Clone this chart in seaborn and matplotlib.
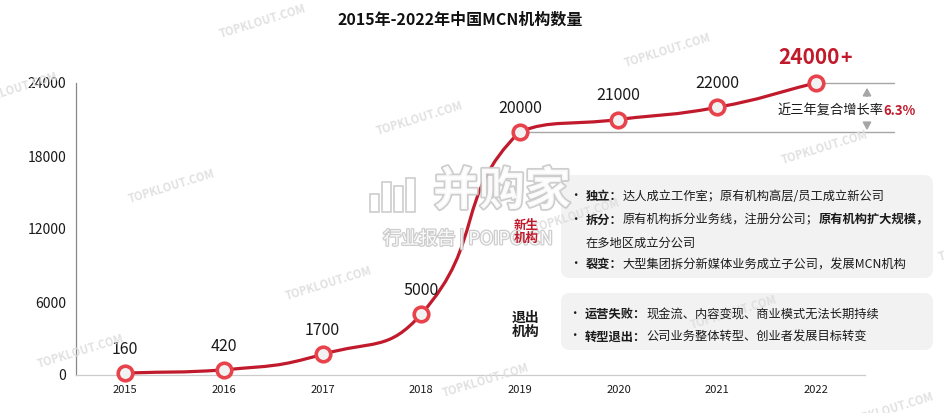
import numpy as np
import pandas as pd
import seaborn as sns
import matplotlib
matplotlib.use("Agg")
import matplotlib.pyplot as plt
from matplotlib.path import Path
from matplotlib.patches import PathPatch, FancyBboxPatch, Rectangle
from matplotlib.transforms import IdentityTransform
import matplotlib.patheffects as pe

# data
years = ["2015", "2016", "2017", "2018", "2019", "2020", "2021", "2022"]
counts = [160, 420, 1700, 5000, 20000, 21000, 22000, 24000]
value_labels = ["160", "420", "1700", "5000", "20000", "21000", "22000", ""]
last_label = "24000"
cagr_text = "近三年复合增长率"
cagr_value = "6.3%"
title = "2015年-2022年中国MCN机构数量"

new_lines = [
    [("独立：", "bold"), ("达人成立工作室；原有机构高层/员工成立新公司", "normal")],
    [("拆分：", "bold"), ("原有机构拆分业务线，注册分公司；", "normal"), ("原有机构扩大规模，", "bold")],
    [("在多地区成立分公司", "normal")],
    [("裂变：", "bold"), ("大型集团拆分新媒体业务成立子公司，发展MCN机构", "normal")],
]
exit_lines = [
    [("运营失败：", "bold"), ("现金流、内容变现、商业模式无法长期持续", "normal")],
    [("转型退出：", "bold"), ("公司业务整体转型、创业者发展目标转变", "normal")],
]

RED = "#c01a2c"
RING = "#e8434c"
W, H = 945, 413

sns.set_style("white")
plt.rcParams["font.family"] = ["Noto Sans CJK SC", "DejaVu Sans"]

df = pd.DataFrame({"pos": np.arange(len(years)), "year": years, "count": counts})

fig = plt.figure(figsize=(W / 100, H / 100), dpi=100)
ax = fig.add_axes([76 / W, 38 / H, 789 / W, 292 / H])
ax.patch.set_visible(False)

# smooth curve (bezier through the data points)
sx, sy = 98.6, 292 / 24000
pts = df[["pos", "count"]].to_numpy(dtype=float)
n = len(pts)
cp_in, cp_out = [], []
for i in range(n):
    p = pts[i]
    prv = pts[max(i - 1, 0)]
    nxt = pts[min(i + 1, n - 1)]
    v = nxt - prv
    d0 = np.hypot((p[0] - prv[0]) * sx, (p[1] - prv[1]) * sy)
    d1 = np.hypot((nxt[0] - p[0]) * sx, (nxt[1] - p[1]) * sy)
    tot = d0 + d1 if d0 + d1 > 0 else 1
    a = p - v * 0.5 * d0 / tot
    b = p + v * 0.5 * d1 / tot
    a[1] = np.clip(a[1], min(prv[1], p[1]), max(prv[1], p[1]))
    b[1] = np.clip(b[1], min(nxt[1], p[1]), max(nxt[1], p[1]))
    cp_in.append(a)
    cp_out.append(b)
verts = [pts[0]]
codes = [Path.MOVETO]
for i in range(n - 1):
    verts += [cp_out[i], cp_in[i + 1], pts[i + 1]]
    codes += [Path.CURVE4] * 3
ax.add_patch(PathPatch(Path(verts, codes), fill=False, edgecolor=RED, lw=2.3,
                       capstyle="round", zorder=3, clip_on=False))

sns.scatterplot(data=df, x="pos", y="count", ax=ax, s=110, color="#f2f2f2",
                edgecolor=RING, linewidth=2.6, zorder=4, clip_on=False, legend=False)

for i, lab in enumerate(value_labels):
    if lab:
        ax.annotate(lab, (df["pos"][i], df["count"][i]), xytext=(0, 17),
                    textcoords="offset points", ha="center", va="center",
                    fontsize=11.5, color="#1a1a1a", zorder=5)

ax.set_xlim(-0.5, len(years) - 0.5)
ax.set_ylim(0, 24000)
ax.set_yticks([0, 6000, 12000, 18000, 24000])
ax.set_xticks(df["pos"])
ax.set_xticklabels(years)
ax.set_xticks(np.arange(-0.5, len(years)), minor=True)
ax.tick_params(axis="x", which="major", length=0, labelsize=8, pad=7, labelcolor="#1a1a1a")
ax.tick_params(axis="x", which="minor", length=4, color="#cccccc", width=0.8)
ax.tick_params(axis="y", length=4, color="#888888", width=0.8, labelsize=10, labelcolor="#1a1a1a", pad=3)
ax.set_xlabel("")
ax.set_ylabel("")
for s in ["top", "right"]:
    ax.spines[s].set_visible(False)
ax.spines["left"].set_color("#888888")
ax.spines["left"].set_linewidth(0.9)
ax.spines["bottom"].set_color("#cccccc")
ax.spines["bottom"].set_linewidth(0.9)

# reference lines for CAGR bracket
ax.plot([7, 7.79], [counts[-1], counts[-1]], color="#a6a6a6", lw=1, zorder=1, clip_on=False)
ax.plot([4, 7.79], [counts[4], counts[4]], color="#a6a6a6", lw=1, zorder=1, clip_on=False)


def fy(py):
    return H - py


arrow = dict(arrowstyle="-|>,head_length=0.45,head_width=0.25", color="#a6a6a6", lw=1.2)
fig.add_artist(plt.Annotation("", xy=(867, fy(85)), xytext=(867, fy(99)),
                              xycoords="figure pixels", arrowprops=arrow))
fig.add_artist(plt.Annotation("", xy=(867, fy(133)), xytext=(867, fy(120)),
                              xycoords="figure pixels", arrowprops=arrow))

fig.canvas.draw()
renderer = fig.canvas.get_renderer()


def rich(x, y, parts, size, color="#1a1a1a", z=3):
    base = fy(y) - 0.36 * size * 100 / 72
    for txt, wt, *c in parts:
        t = fig.text(x / W, base / H, txt, fontsize=size, fontweight=wt,
                     color=c[0] if c else color, ha="left", va="baseline", zorder=z)
        bb = t.get_window_extent(renderer)
        x = bb.x1
    return x


# CAGR label
rich(777, 110, [(cagr_text, "normal"), (cagr_value, "bold", RED)], 9.5)

# 24000+
fig.text(809 / W, fy(58) / H, last_label, fontsize=15, fontweight="bold", color=RED,
         ha="center", va="center")
fig.text(846 / W, fy(58) / H, "+", fontsize=14, fontweight="bold", color=RED,
         ha="center", va="center")

# title
fig.text(460 / W, fy(20) / H, title, fontsize=11.5, fontweight="bold", color="#111111",
         ha="center", va="center")

# grey info boxes
for (x0, y0, x1, y1) in [(561, 175, 933, 278), (561, 293, 933, 350)]:
    fig.add_artist(FancyBboxPatch((x0 + 9, fy(y1) + 9), x1 - x0 - 18, y1 - y0 - 18,
                                  boxstyle="round,pad=9", transform=IdentityTransform(),
                                  facecolor="#f2f2f2", edgecolor="none", zorder=0.8))

new_y = [196, 219, 242, 264]
for yy, line in zip(new_y, new_lines):
    if line[0][1] == "bold":
        fig.text(575 / W, fy(yy) / H, "•", fontsize=9, color="#1a1a1a", ha="center", va="center")
    rich(586, yy, line, 8.8)
for yy, line in zip([313, 336], exit_lines):
    fig.text(574 / W, fy(yy) / H, "•", fontsize=9, color="#1a1a1a", ha="center", va="center")
    rich(585, yy, line, 8.8)

fig.text(526 / W, fy(232) / H, "新生\n机构", fontsize=9, fontweight="bold", color=RED,
         ha="center", va="center", linespacing=1.05, zorder=8)
fig.text(526 / W, fy(325) / H, "退出\n机构", fontsize=10, fontweight="bold", color="#1a1a1a",
         ha="center", va="center", linespacing=1.05)

# watermarks
va_, vb_ = np.array([157, 97]), np.array([-91, 165])
for i in range(-3, 5):
    for j in range(-3, 5):
        px, py = np.array([263, 22]) + i * va_ + j * vb_
        if -40 < px < W + 40 and -20 < py < H + 20:
            fig.text(px / W, fy(py) / H, "TOPKLOUT.COM", fontsize=8, fontweight="bold",
                     color="#dedede", rotation=17, ha="center", va="center",
                     rotation_mode="anchor", zorder=1, alpha=0.9)

wm = [pe.withStroke(linewidth=2.5, foreground="#c8c8c8")]
fig.text(502 / W, fy(192) / H, "并购家", fontsize=33, fontweight="bold", color="white",
         ha="center", va="center", path_effects=wm, alpha=0.9, zorder=6)
fig.text(468 / W, fy(239) / H, "行业报告 | POIPO.CN", fontsize=13, color="white",
         ha="center", va="center", path_effects=[pe.withStroke(linewidth=1.8, foreground="#c8c8c8")],
         alpha=0.9, zorder=6)
# bar icon of the watermark
for bx, bh in [(370, 18), (382, 30), (394, 26), (406, 34)]:
    fig.add_artist(Rectangle((bx, fy(212)), 9, bh, transform=IdentityTransform(),
                             facecolor="white", edgecolor="#c8c8c8", lw=1.2, alpha=0.9, zorder=6))

fig.savefig("out.png", dpi=100)
